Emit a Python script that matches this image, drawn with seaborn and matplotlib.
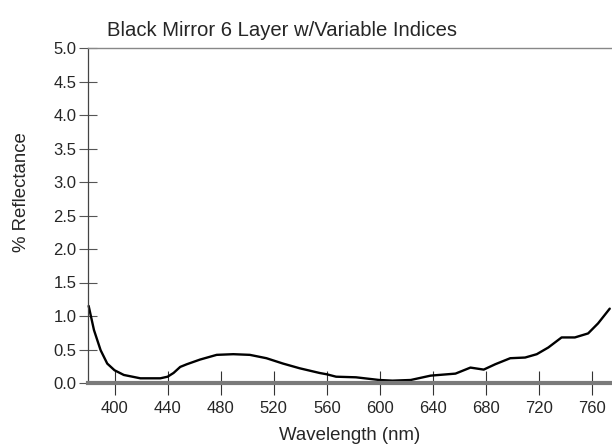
import matplotlib
matplotlib.use("Agg")
import matplotlib.pyplot as plt
import numpy as np
import pandas as pd
import seaborn as sns

# Reflectance spectrum of the six-layer black mirror coating
wavelength_nm = [380.5, 384.5, 389.5, 394.5, 400, 407, 419.5, 434.5, 440, 444.5,
                 449.5, 454.5, 464.5, 477, 489.5, 502, 514.5, 527, 539.5, 554.5,
                 560, 567, 582, 599.5, 609.5, 623.3, 638.3, 657, 668.3, 678.3,
                 687, 698.3, 709.5, 718.3, 727, 737, 747, 757, 764.5, 773.3]
reflectance_pct = [1.15, 0.79, 0.49, 0.29, 0.19, 0.12, 0.07, 0.07, 0.094, 0.15,
                   0.24, 0.28, 0.35, 0.42, 0.43, 0.42, 0.37, 0.29, 0.22, 0.15,
                   0.13, 0.094, 0.085, 0.045, 0.035, 0.045, 0.11, 0.14, 0.23, 0.20,
                   0.28, 0.37, 0.38, 0.43, 0.53, 0.68, 0.68, 0.74, 0.89, 1.11]

x_ticks = [400, 440, 480, 520, 560, 600, 640, 680, 720, 760]
y_ticks = [0.0, 0.5, 1.0, 1.5, 2.0, 2.5, 3.0, 3.5, 4.0, 4.5, 5.0]

df = pd.DataFrame({"Wavelength (nm)": wavelength_nm, "% Reflectance": reflectance_pct})

sns.set_style("white")
plt.rcParams["font.family"] = ["Liberation Sans", "DejaVu Sans"]

fig = plt.figure(figsize=(6.12, 4.45), dpi=100)
ax = fig.add_axes([88 / 612, 62 / 445, 524 / 612, 335 / 445])

sns.lineplot(data=df, x="Wavelength (nm)", y="% Reflectance", ax=ax,
             color="black", linewidth=1.7, clip_on=False)

ax.set_xlim(380, 775)
ax.set_ylim(0, 5.0)
ax.set_xticks(x_ticks)
ax.set_yticks(y_ticks)
ax.set_yticklabels([f"{v:.1f}" for v in y_ticks])

ax.tick_params(axis="x", direction="inout", length=17, width=0.8, color="#333333",
               labelsize=12, pad=4.5, bottom=True)
ax.tick_params(axis="y", direction="inout", length=12.5, width=0.8, color="#555555",
               labelsize=12, pad=2, left=True)

ax.spines["right"].set_visible(False)
ax.spines["top"].set_color("#888888")
ax.spines["top"].set_linewidth(1.0)
ax.spines["left"].set_color("#444444")
ax.spines["left"].set_linewidth(0.9)
ax.spines["bottom"].set_color("#7a7a7a")
ax.spines["bottom"].set_linewidth(3.0)

ax.set_xlabel("Wavelength (nm)", fontsize=13.4, labelpad=8)
ax.set_ylabel("% Reflectance", fontsize=13.4)
ax.yaxis.set_label_coords(-0.11, 0.57)
ax.set_title("Black Mirror 6 Layer w/Variable Indices", fontsize=14.6, x=0.37, pad=8.5)

fig.savefig("out.png", dpi=100)
